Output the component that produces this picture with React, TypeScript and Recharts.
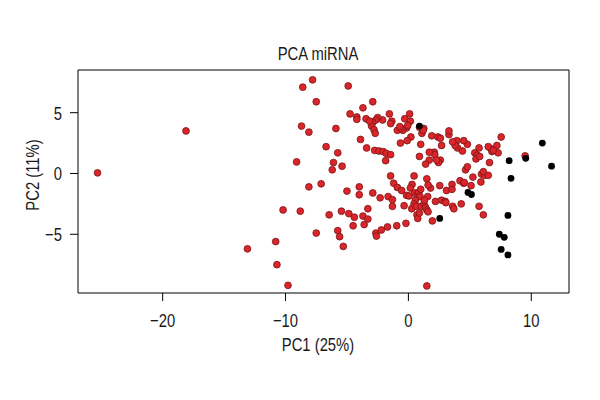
import { ReferenceArea, Scatter, ScatterChart, XAxis, YAxis } from 'recharts';

// PCA scores: [PC1, PC2]
const redSamples: [number, number][] = [
  [-25.3, 0.05], [-18.1, 3.5], [-13.1, -6.2], [-10.8, -5.6], [-10.7, -7.5], [-9.8, -9.2],
  [-10.2, -3.0], [-8.8, -3.1], [-9.1, 0.95], [-8.7, 3.9], [-8.6, 7.1], [-7.8, 7.7],
  [-7.5, 5.9], [-8.1, 3.4], [-8.1, -1.1], [-7.1, -0.85], [-7.5, -4.9], [-6.7, 2.2],
  [-6.45, -3.4], [-5.9, 3.7], [-5.75, 1.7], [-6.1, 0.9], [-6.2, 0.3], [-5.4, 0.6],
  [-5.75, -4.7], [-5.6, -5.2], [-5.3, -6.0], [-5.45, -3.1], [-5.0, -1.45], [-4.9, 7.2],
  [-4.75, 4.9], [-4.2, 4.65], [-4.2, 4.45], [-3.7, 5.4], [-2.9, 5.9], [-3.9, 2.8],
  [-3.4, 2.1], [-4.85, -3.3], [-4.4, -3.6], [-4.5, -4.3], [-4.0, -1.1], [-4.0, -1.75],
  [-3.7, -3.5], [-3.3, -2.9], [-3.3, -3.75], [-3.6, -4.2], [-2.9, -1.6], [-2.65, -4.9],
  [-2.6, -5.15], [-2.2, -4.65], [-1.7, -4.4], [-2.3, -2.0], [-1.65, -1.9], [-1.3, -2.15],
  [-1.3, -2.7], [-1.45, -0.2], [-0.95, -4.3], [-0.2, -4.1], [-1.2, -0.8], [-0.9, -1.15],
  [-0.55, -1.4], [-0.15, -1.8], [0.05, -1.85], [-0.35, -2.65], [0.27, -2.9], [0.46, -0.2],
  [0.3, -0.9], [0.16, -1.2], [0.5, -1.6], [0.76, -1.7], [0.84, -1.55], [0.95, -1.9],
  [0.57, -2.2], [0.46, -2.5], [0.65, -2.7], [0.7, -3.4], [0.76, -3.7], [1.05, -2.7],
  [1.27, -2.5], [1.4, -2.8], [1.5, -3.0], [1.57, -1.9], [1.8, -1.2], [1.5, -0.44],
  [1.6, -0.95], [1.95, -3.9], [2.2, -2.3], [2.55, -1.0], [2.7, -2.2], [3.0, -2.3],
  [3.1, -1.4], [3.55, -0.9], [3.55, -1.3], [3.6, -2.7], [3.7, -2.9], [4.3, -2.5],
  [4.2, -0.6], [4.5, -0.8], [4.65, 0.3], [4.8, 0.55], [5.1, -1.0], [5.25, -0.3],
  [5.75, -2.7], [5.9, -0.7], [5.95, -0.05], [6.2, -0.15], [6.1, -3.4], [6.5, -0.15],
  [6.1, 0.15], [6.6, 0.9], [6.7, 2.05], [6.8, 1.8], [7.2, 2.3], [7.3, 1.7],
  [7.55, 3.0], [9.5, 1.45], [6.5, 2.2], [5.75, 2.1], [5.4, 1.7], [5.6, 1.5],
  [5.5, 1.2], [4.8, 2.4], [4.5, 2.7], [4.0, 2.1], [3.95, 2.7], [3.8, 2.3],
  [3.6, 2.6], [3.3, 3.2], [3.3, 3.5], [2.7, 2.3], [2.4, 3.0], [1.9, 3.1],
  [2.1, 1.75], [2.15, 1.55], [2.6, 1.1], [2.45, 0.9], [2.3, 1.1], [1.7, 1.75],
  [1.7, 1.1], [1.4, 0.77], [0.9, 1.4], [1.0, 2.4], [1.1, 3.3], [1.25, 3.7],
  [0.9, 3.8], [0.2, 3.0], [-0.1, 2.7], [-0.65, 2.5], [-0.15, 3.75], [-0.45, 3.55],
  [-0.9, 3.55], [-0.6, 3.7], [-0.3, 4.5], [0.1, 4.9], [0.16, 4.3], [-0.05, 3.95],
  [-1.55, 4.9], [-1.35, 4.3], [-1.45, 4.1], [-2.1, 4.4], [-2.5, 4.6], [-2.65, 4.4],
  [-2.9, 4.2], [-3.45, 4.5], [-3.0, 3.9], [-2.8, 3.6], [-2.7, 3.3], [-2.75, 1.9],
  [-2.4, 1.85], [-2.05, 1.8], [-1.8, 1.65], [-1.45, 1.55], [-1.85, 1.05], [1.5, -9.25],
  [0.9, -3.25], [1.6, -3.15], [3.05, -2.4], [2.6, 2.9], [4.4, 1.85], [5.8, 1.4],
  [6.9, 1.9], [4.55, -0.75], [1.2, 3.55], [-0.7, 3.85], [-3.15, 4.3], [1.3, -2.2],
  [1.0, -1.3],
];

const blackSamples: [number, number][] = [
  [0.9, 3.9], [2.55, -3.7], [4.85, -1.56], [5.13, -1.73], [8.2, 1.05], [8.35, -0.4],
  [9.55, 1.25], [10.9, 2.5], [11.65, 0.6], [8.1, -3.45], [7.4, -5.0], [7.8, -5.25],
  [7.55, -6.25], [8.1, -6.7],
];

const xTicks = [-20, -10, 0, 10];
const yTicks = [-5, 0, 5];
const xDomain: [number, number] = [-26.89, 13.07];
const yDomain: [number, number] = [-9.83, 8.51];

// no condensed font installed, so squeeze Liberation Sans horizontally
const font = "'Liberation Sans', Arial, sans-serif";
const squeeze = 0.78;
const textColor = '#1a1a1a';

const red = redSamples.map(([x, y]) => ({ x, y }));
const black = blackSamples.map(([x, y]) => ({ x, y }));

const fmt = (v: number) => String(v).replace('-', '\u2212');

const RedDot = (p: any) => <circle cx={p.cx} cy={p.cy} r={3.4} fill="#d9262b" stroke="#7d1414" strokeWidth={0.8} />;
const BlackDot = (p: any) => <circle cx={p.cx} cy={p.cy} r={3.4} fill="#000" />;

function Narrow({ x, y, size = 19, anchor = 'middle', rotate = 0, children }: any) {
  return (
    <text
      transform={`translate(${x},${y}) rotate(${rotate}) scale(${squeeze},1)`}
      textAnchor={anchor}
      fontSize={size}
      fontFamily={font}
      fill={textColor}
    >
      {children}
    </text>
  );
}

const XTick = (p: any) => <Narrow x={p.x} y={p.y + 26}>{fmt(p.payload.value)}</Narrow>;
const YTick = (p: any) => <Narrow x={p.x} y={p.y + 7} anchor="end">{fmt(p.payload.value)}</Narrow>;

export default function App() {
  return (
    <div style={{ position: 'absolute', left: 0, top: 0, width: 600, height: 400, background: '#fff' }}>
      <ScatterChart width={600} height={400} margin={{ top: 70, right: 31, bottom: 0, left: 0 }}>
        <XAxis
          type="number"
          dataKey="x"
          domain={xDomain}
          ticks={xTicks}
          allowDataOverflow
          height={107}
          axisLine={false}
          tickLine={{ stroke: '#000' }}
          tickSize={8}
          tickMargin={0}
          tick={XTick}
        />
        <YAxis
          type="number"
          dataKey="y"
          domain={yDomain}
          ticks={yTicks}
          allowDataOverflow
          width={78}
          axisLine={false}
          tickLine={{ stroke: '#000' }}
          tickSize={8}
          tickMargin={8}
          tick={YTick}
        />
        <ReferenceArea x1={xDomain[0]} x2={xDomain[1]} y1={yDomain[0]} y2={yDomain[1]} fill="none" stroke="#000" strokeWidth={1} />
        <Scatter data={red} shape={RedDot} isAnimationActive={false} />
        <Scatter data={black} shape={BlackDot} isAnimationActive={false} />
      </ScatterChart>
      <svg width={600} height={400} style={{ position: 'absolute', left: 0, top: 0, pointerEvents: 'none' }}>
        <Narrow x={318} y={60} size={19}>PCA miRNA</Narrow>
        <Narrow x={318} y={351} size={19}>PC1 (25%)</Narrow>
        <Narrow x={38.5} y={175} size={19} rotate={-90}>PC2 (11%)</Narrow>
      </svg>
    </div>
  );
}
